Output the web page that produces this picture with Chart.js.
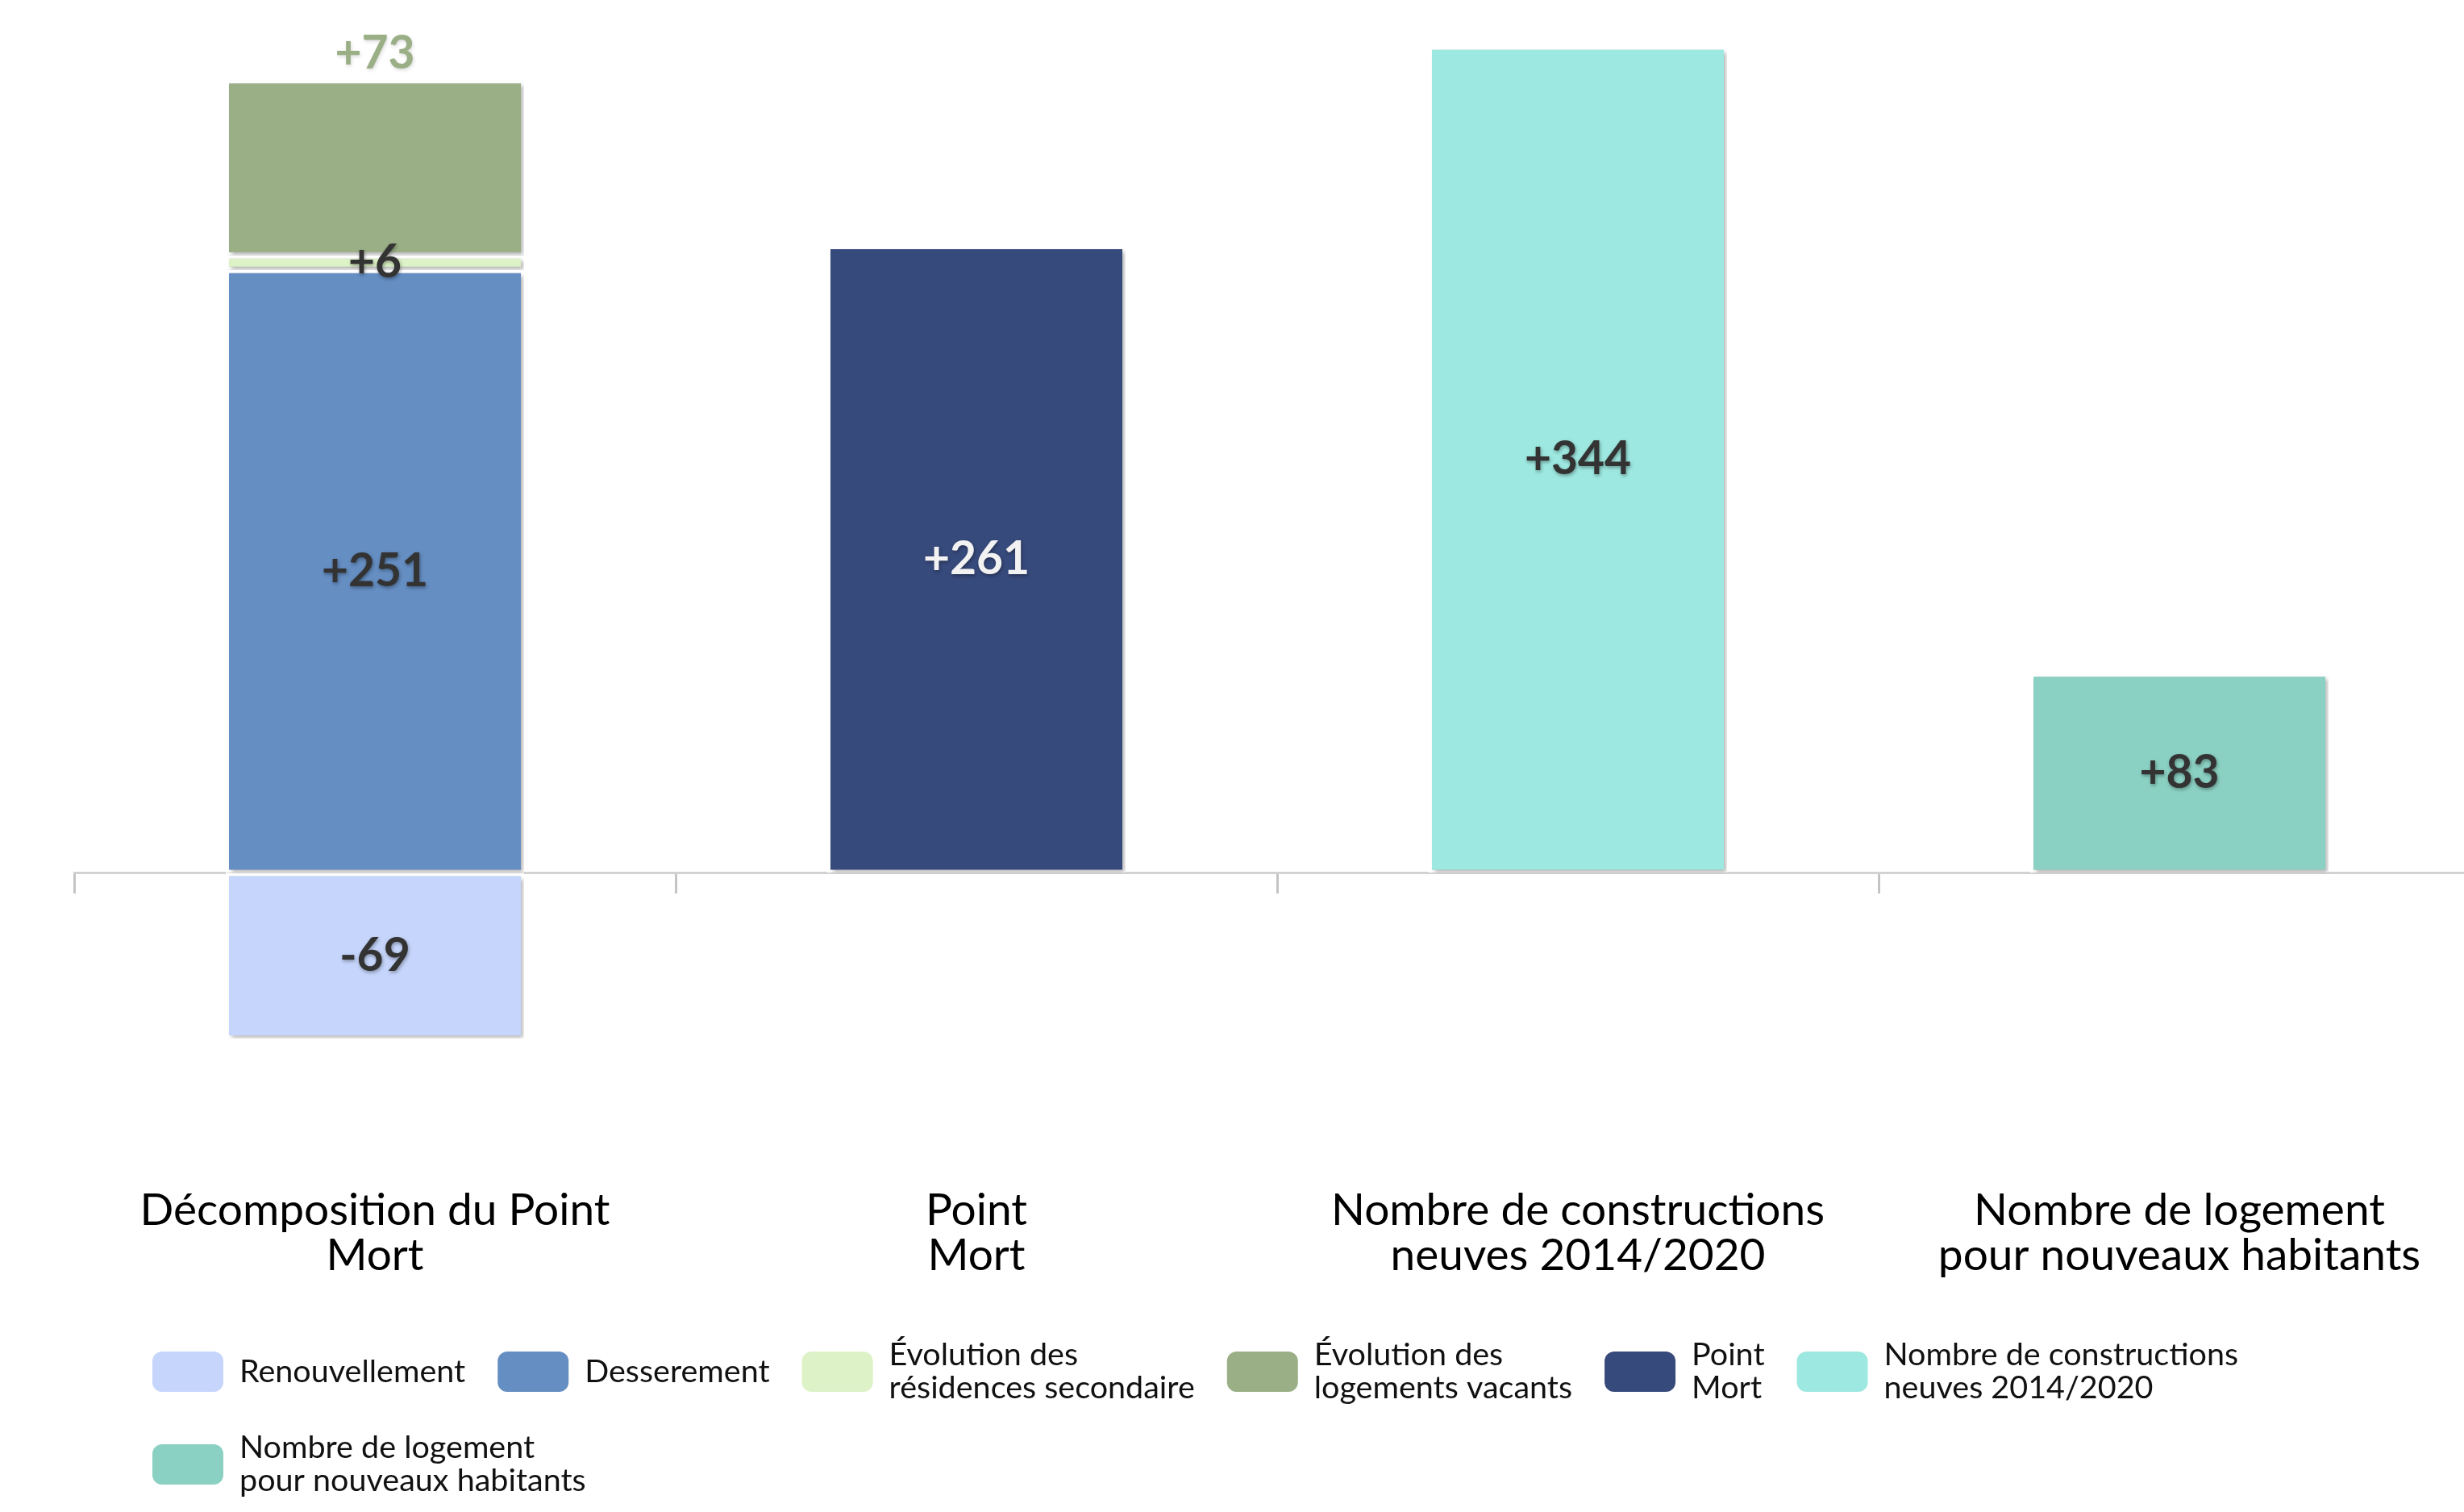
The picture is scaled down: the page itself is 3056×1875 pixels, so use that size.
<!DOCTYPE html>
<html>
<head>
<meta charset="utf-8">
<script src="https://cdn.jsdelivr.net/npm/chart.js@4.4.1/dist/chart.umd.min.js"></script>
<style>
  html, body { margin: 0; padding: 0; background: #fff; overflow: hidden; }
  #wrap { position: relative; width: 3100px; height: 1875px; }
</style>
</head>
<body>
<div id="wrap"><canvas id="chart_pointMort"></canvas></div>
<script>
// categories (x axis, two lines each)
var categories = [
  ['Décomposition du Point', 'Mort'],
  ['Point', 'Mort'],
  ['Nombre de constructions', 'neuves 2014/2020'],
  ['Nombre de logement', 'pour nouveaux habitants']
];

// series values, one per category
var renouvellement = [-69, null, null, null];
var desserement = [251, null, null, null];
var residencesSecondaires = [6, null, null, null];
var logementsVacants = [73, null, null, null];
var pointMort = [null, 261, null, null];
var constructionsNeuves = [null, null, 344, null];
var logementsNouveauxHabitants = [null, null, null, 83];

var yMin = -120;
var yMax = 360;

var FONT = 'Lato, "Open Sans", sans-serif';

function serie(label, data, color, labelColor, labelAnchor) {
    return {
        label: label,
        data: data,
        backgroundColor: color,
        borderColor: '#ffffff',
        borderWidth: 4,
        borderSkipped: false,
        categoryPercentage: 1,
        barPercentage: 0.496,
        labelColor: labelColor || '#333333',
        labelAnchor: labelAnchor || 'center'
    };
}

var valueLabels = {
    id: 'valueLabels',
    beforeDatasetsDraw: (chart) => {
        const ctx = chart.ctx;
        ctx.save();
        ctx.shadowColor = 'rgba(0,0,0,0.3)';
        ctx.shadowBlur = 5;
        ctx.shadowOffsetX = 3;
        ctx.shadowOffsetY = 3;
    },
    afterDatasetsDraw: (chart) => {
        const ctx = chart.ctx;
        ctx.restore();
        ctx.save();
        ctx.font = 'bold 57px ' + FONT;
        ctx.textAlign = 'center';
        ctx.textBaseline = 'middle';
        ctx.shadowBlur = 4;
        ctx.shadowOffsetX = 1;
        ctx.shadowOffsetY = 2;
        chart.data.datasets.forEach((ds, i) => {
            const meta = chart.getDatasetMeta(i);
            meta.data.forEach((bar, j) => {
                const v = ds.data[j];
                if (v === null || v === undefined) return;
                const p = bar.getProps(['x', 'y', 'base'], true);
                let ty = (p.y + p.base) / 2;
                if (ds.labelAnchor === 'above') {
                    ty = Math.min(p.y, p.base) - 33;
                    ctx.shadowColor = 'rgba(0,0,0,0.15)';
                } else {
                    ctx.shadowColor = 'rgba(0,0,0,0.35)';
                }
                ctx.fillStyle = ds.labelColor;
                ctx.fillText((v > 0 ? '+' : '') + v, p.x, ty);
            });
        });
        ctx.restore();
    }
};

var flowLegend = {
    id: 'flowLegend',
    afterDraw: (chart) => {
        const ctx = chart.ctx;
        const startX = 189, maxX = 3040;
        const rowY = [1701, 1816];
        const swW = 88, swH = 50, gap = 20, itemGap = 40, lineH = 41;
        let x = startX, row = 0;
        ctx.save();
        ctx.font = '39.5px ' + FONT;
        ctx.textBaseline = 'middle';
        ctx.textAlign = 'left';
        chart.data.datasets.forEach((ds) => {
            const lines = ds.label.split('\n');
            const tw = Math.max.apply(null, lines.map(l => ctx.measureText(l).width));
            const w = swW + gap + tw;
            if (x + w > maxX) { x = startX; row++; }
            const cy = rowY[row];
            ctx.fillStyle = ds.backgroundColor;
            ctx.beginPath();
            ctx.roundRect(x, cy - swH / 2, swW, swH, 12);
            ctx.fill();
            ctx.fillStyle = '#111111';
            const y0 = cy - (lines.length - 1) * lineH / 2;
            lines.forEach((l, k) => ctx.fillText(l, x + swW + gap, y0 + k * lineH));
            x += w + itemGap;
        });
        ctx.restore();
    }
};

var chart_pointMort = new Chart(document.getElementById('chart_pointMort'), {
    type: 'bar',
    data: {
        labels: categories,
        datasets: [
            serie('Renouvellement', renouvellement, '#c5d5fb'),
            serie('Desserement', desserement, '#658ec2'),
            serie('Évolution des\nrésidences secondaire', residencesSecondaires, '#ddf2c6'),
            serie('Évolution des\nlogements vacants', logementsVacants, '#9aaf85', '#9aaf85', 'above'),
            serie('Point\nMort', pointMort, '#374a7c', '#f2f2f2'),
            serie('Nombre de constructions\nneuves 2014/2020', constructionsNeuves, '#9de8e0'),
            serie('Nombre de logement\npour nouveaux habitants', logementsNouveauxHabitants, '#8bd1c3')
        ]
    },
    options: {
        animation: false,
        responsive: true,
        maintainAspectRatio: false,
        layout: {
            padding: { left: 92, right: 24, top: 10, bottom: 435 }
        },
        plugins: {
            legend: { display: false },
            tooltip: { enabled: false }
        },
        scales: {
            x: {
                stacked: true,
                position: { y: 0 },
                afterFit: (scale) => {
                    scale.paddingLeft = 0;
                    scale.paddingRight = 0;
                },
                border: { display: true, color: '#d2d2d2', width: 3, dash: [10, 5] },
                grid: {
                    offset: true,
                    drawOnChartArea: false,
                    drawTicks: true,
                    tickLength: 24,
                    tickColor: '#c4c4c4',
                    tickWidth: 3
                },
                ticks: {
                    autoSkip: false,
                    maxRotation: 0,
                    padding: 367,
                    color: '#000000',
                    font: { family: FONT, size: 55, lineHeight: 1.02 }
                }
            },
            y: {
                stacked: true,
                display: false,
                min: yMin,
                max: yMax
            }
        }
    },
    plugins: [valueLabels, flowLegend, {
        id: 'whiteBackground',
        beforeDraw: (chart) => {
            const ctx = chart.canvas.getContext('2d');
            ctx.save();
            ctx.globalCompositeOperation = 'destination-over';
            ctx.fillStyle = 'white';
            ctx.fillRect(0, 0, chart.canvas.width, chart.canvas.height);
            ctx.restore();
        }
    }]
});
</script>
</body>
</html>
